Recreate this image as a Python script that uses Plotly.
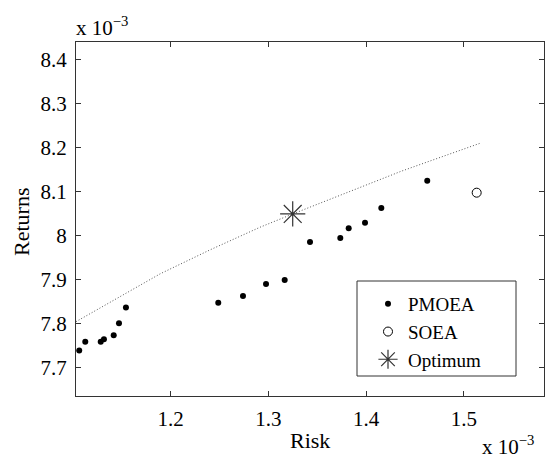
import plotly.graph_objects as go

# Values in units of 1e-3 (axes show "x 10^-3")
pmoea_risk = [1.1064, 1.1126, 1.1284, 1.1317, 1.1417, 1.1471, 1.1542, 1.2487, 1.2740,
              1.2976, 1.3167, 1.3426, 1.3736, 1.3822, 1.3989, 1.4156, 1.4626]
pmoea_ret = [7.7388, 7.7592, 7.7592, 7.7646, 7.7737, 7.8009, 7.8364, 7.8477, 7.8629,
             7.8901, 7.8992, 7.9854, 7.9945, 8.0165, 8.0292, 8.0626, 8.1245]
soea_risk = [1.5132]
soea_ret = [8.0973]
opt_risk = [1.3249]
opt_ret = [8.0490]
front_risk = [1.1031, 1.1460, 1.1893, 1.2404, 1.2914, 1.3249, 1.3511, 1.3800,
              1.4108, 1.4360, 1.4620, 1.4900, 1.5166]
front_ret = [7.8045, 7.8580, 7.9132, 7.9676, 8.0188, 8.0490, 8.0717, 8.0985,
             8.1245, 8.1460, 8.1665, 8.1885, 8.2094]
x_ticks = [1.2, 1.3, 1.4, 1.5]
x_ticklabels = ["1.2", "1.3", "1.4", "1.5"]
y_ticks = [7.7, 7.8, 7.9, 8.0, 8.1, 8.2, 8.3, 8.4]
y_ticklabels = ["7.7", "7.8", "7.9", "8", "8.1", "8.2", "8.3", "8.4"]

FONT = "Liberation Serif"
AX = "#333333"

fig = go.Figure()
fig.add_trace(go.Scatter(x=front_risk, y=front_ret, mode="lines",
                         line=dict(color="#555555", width=1, dash="1px,2px"),
                         showlegend=False, hoverinfo="skip"))
fig.add_trace(go.Scatter(x=pmoea_risk, y=pmoea_ret, mode="markers", name="PMOEA",
                         legendgroup="a",
                         marker=dict(color="black", size=6, symbol="circle")))
fig.add_trace(go.Scatter(x=soea_risk, y=soea_ret, mode="markers", name="SOEA",
                         legendgroup="b",
                         marker=dict(color="black", size=9, symbol="circle-open",
                                     line=dict(width=1, color="black"))))
fig.add_trace(go.Scatter(x=opt_risk, y=opt_ret, mode="markers", name="Optimum",
                         legendgroup="c",
                         marker=dict(color="#333333", size=21, symbol="asterisk-open",
                                     line=dict(width=1.2, color="#333333"))))

W, H = 545, 459
L, R, T, B = 76, 1, 42, 63
pw, ph = W - L - R, H - T - B

def px(x):
    return (x - L) / pw

def py(y):
    return (H - B - y) / ph

fig.update_layout(
    width=W, height=H,
    margin=dict(l=L, r=R, t=T, b=B),
    paper_bgcolor="white", plot_bgcolor="white",
    font=dict(family=FONT, color="black"),
    showlegend=True,
    legend=dict(x=px(368), y=py(285), xanchor="left", yanchor="top",
                bgcolor="rgba(0,0,0,0)", borderwidth=0,
                font=dict(size=19, family=FONT), tracegroupgap=0),
    xaxis=dict(range=[1.1031, 1.5821], tickvals=x_ticks, ticktext=x_ticklabels,
               ticks="inside", ticklen=5, tickcolor=AX, showline=True, linecolor=AX,
               linewidth=1, mirror="ticks", showgrid=False, zeroline=False,
               ticklabelstandoff=4,
               tickfont=dict(size=21, family=FONT)),
    yaxis=dict(range=[7.6358, 8.4393], tickvals=y_ticks, ticktext=y_ticklabels,
               ticks="inside", ticklen=5, tickcolor=AX, showline=True, linecolor=AX,
               linewidth=1, mirror="ticks", showgrid=False, zeroline=False,
               ticklabelstandoff=4,
               tickfont=dict(size=21, family=FONT)),
    shapes=[dict(type="rect", xref="paper", yref="paper",
                 x0=px(357), x1=px(516), y0=py(376), y1=py(281),
                 line=dict(color=AX, width=1), fillcolor="rgba(0,0,0,0)")],
    annotations=[
        dict(text="x 10<sup>−3</sup>", xref="paper", yref="paper", x=px(74), y=py(42),
             xanchor="left", yanchor="bottom", showarrow=False,
             font=dict(size=21, family=FONT)),
        dict(text="x 10<sup>−3</sup>", xref="paper", yref="paper", x=px(480), y=py(461),
             xanchor="left", yanchor="bottom", showarrow=False,
             font=dict(size=21, family=FONT)),
        dict(text="Risk", xref="paper", yref="paper", x=px(310), y=py(440),
             xanchor="center", yanchor="middle", showarrow=False,
             font=dict(size=22, family=FONT)),
        dict(text="Returns", xref="paper", yref="paper", x=px(21), y=py(222),
             xanchor="center", yanchor="middle", showarrow=False, textangle=-90,
             font=dict(size=22, family=FONT)),
    ],
)

fig.write_html("out.html")
